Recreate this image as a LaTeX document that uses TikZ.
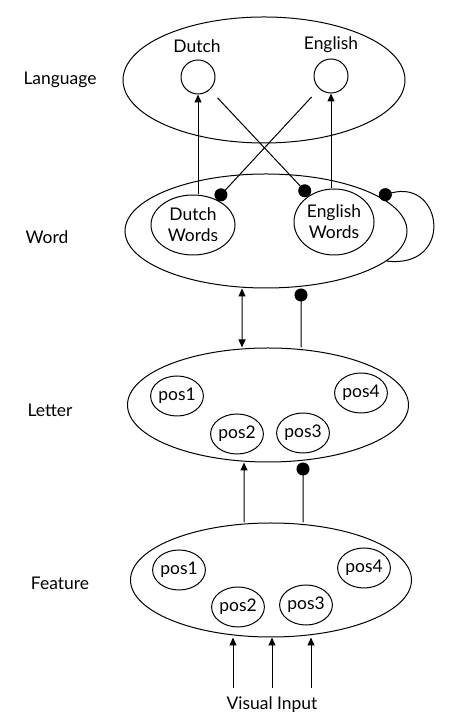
\documentclass[tikz,border=0pt]{standalone}
\usepackage{fontspec}
\setmainfont{Lato}
\usetikzlibrary{shapes.geometric,arrows.meta}
\begin{document}
\begin{tikzpicture}[x=1bp,y=1bp,
  every node/.style={font=\fontsize{17.5}{21}\selectfont},
  lw/.style={line width=1bp},
  big/.style={draw, lw, ellipse, minimum width=282bp, minimum height=114bp, inner sep=0pt},
  unit/.style={draw, lw, circle, minimum size=34bp, inner sep=0pt},
  wordunit/.style={draw, lw, ellipse, inner sep=0pt, align=center},
  posunit/.style={draw, lw, ellipse, minimum width=50bp, minimum height=40bp, inner sep=0pt},
  excite/.style={lw, -{Triangle[length=8bp,width=7bp]}},
  both/.style={lw, {Triangle[length=8bp,width=7bp]}-{Triangle[length=8bp,width=7bp]}},
  inhib/.style={lw, -{Circle[length=13bp]}},
  lab/.style={inner sep=0pt}]
\useasboundingbox (0,0) rectangle (468,720);

% Language layer
\node[big, minimum height=126bp] (lang) at (264,640) {};
\node[lab] (langlab) at (60,640) {Language};
\node[unit] (dutch) at (198,643) {};
\node[unit] (english) at (331,644) {};
\node[lab] (dutchlab) at (197,674) {Dutch};
\node[lab] (englishlab) at (331,675) {English};

% Word layer
\node[big] (word) at (266,489) {};
\node[lab] (wordlab) at (47,483) {Word};
\node[wordunit, minimum width=84bp, minimum height=60bp] (dutchw) at (193,495) {Dutch\\Words};
\node[wordunit, minimum width=80bp, minimum height=66bp] (englishw) at (334,498) {English\\Words};

% Letter layer
\node[big, minimum width=281bp] (letter) at (268,315) {};
\node[lab] (letterlab) at (50,310) {Letter};
\node[posunit] (l1) at (177,324) {pos1};
\node[posunit] (l2) at (237,286) {pos2};
\node[posunit] (l3) at (303,287) {pos3};
\node[posunit] (l4) at (361,327) {pos4};

% Feature layer
\node[big, minimum width=281bp] (feat) at (271,140) {};
\node[lab] (featlab) at (60,137) {Feature};
\node[posunit] (f1) at (179,150) {pos1};
\node[posunit] (f2) at (238,113) {pos2};
\node[posunit] (f3) at (306,115) {pos3};
\node[posunit] (f4) at (364,152) {pos4};

\node[lab] (vi) at (272,15) {Visual Input};
\coordinate (v1) at (233,32);
\coordinate (v2) at (272,32);
\coordinate (v3) at (311,32);

% Word -> Language
\draw[excite] (dutch |- dutchw.north) -- (dutch.south);
\draw[excite] (english |- englishw.north) -- (english.south);
\draw[inhib, shorten <=11bp] (dutch) -- (englishw);
\draw[inhib, shorten <=11bp] (english) -- (dutchw);

% Word self inhibition
\draw[inhib] (word.-14) .. controls +(68,-8) and +(64,18) .. (word.17);

% Word <-> Letter
\draw[both] ([xshift=-24bp]word.south) -- ([xshift=-26bp]letter.north);
\draw[inhib] ([xshift=33bp]letter.north) -- ([xshift=35bp]word.south);

% Feature -> Letter
\draw[excite] ([xshift=-27bp]feat.north) -- ([xshift=-24bp]letter.south);
\draw[inhib] ([xshift=32bp]feat.north) -- ([xshift=35bp]letter.south);

% Visual input
\draw[excite] (v1) -- (v1 |- feat.south);
\draw[excite] (v2) -- (v2 |- feat.south);
\draw[excite] (v3) -- (v3 |- feat.south);
\end{tikzpicture}
\end{document}
